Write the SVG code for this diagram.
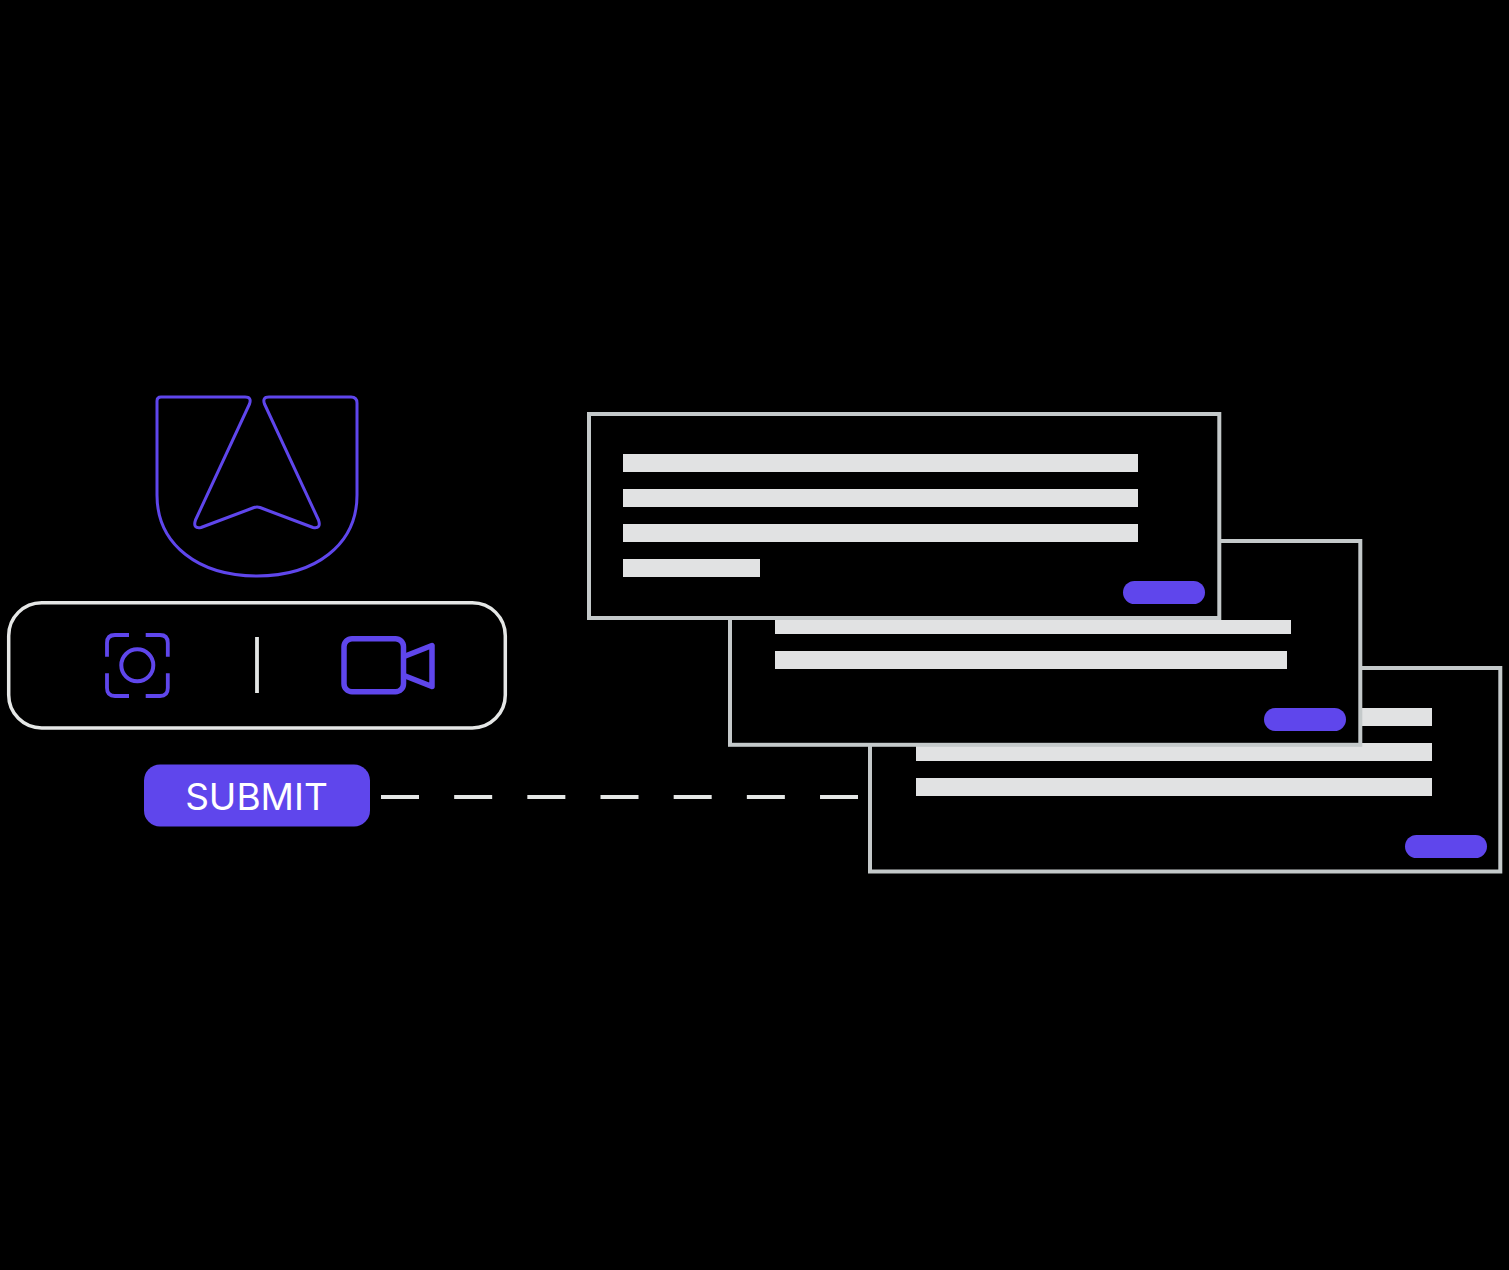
<svg xmlns="http://www.w3.org/2000/svg" width="1509" height="1270" viewBox="0 0 1509 1270">
<style>
.card{fill:#000;stroke:#c4c9ca;stroke-width:4}
.bar{fill:#e1e2e3}
.pill{fill:#5f46ec}
.ic{fill:none;stroke:#5f46ec;stroke-linejoin:round}
</style>
<rect width="1509" height="1270" fill="#000"/>
<g id="shield"><path class="ic" stroke-width="3" d="M161 397H245Q252 397 249.500 404L195.500 520Q192.500 529 201 527.500L254 507.500Q257 506.500 260 507.500L313 527.500Q321.500 529 318.500 520L264.500 404Q262 397 269 397H351Q357 397 357 403V495C357 545 315 576 257 576C199 576 157 545 157 495V401Q157 397 161 397Z"/></g>
<g id="capture-box">
<rect x="8.700" y="602.700" width="496.600" height="125.300" rx="33" fill="none" stroke="#e5e7e6" stroke-width="3.500"/>
<path class="ic" stroke-width="3.800" stroke-linecap="butt" d="M129 635H115Q107 635 107 643V656.700M145.700 635H160Q167.800 635 167.800 643V656.700M129 696H115Q107 696 107 688V673.300M145.700 696H160Q167.800 696 167.800 688V673.300"/>
<circle class="ic" stroke-width="4" cx="137.300" cy="665.300" r="16"/>
<line x1="257" y1="637" x2="257" y2="693" stroke="#e5e7e6" stroke-width="3.800"/>
<rect class="ic" stroke-width="5.500" x="344" y="638.700" width="59.500" height="53" rx="8"/>
<path class="ic" stroke-width="5.500" d="M404 656.500L432 645.500V686.500L404 675.500"/>
</g>
<g id="submit">
<rect class="pill" x="144" y="764.500" width="226" height="62" rx="16"/>
<text x="256.500" y="809.700" text-anchor="middle" font-family="Inter, 'Liberation Sans', sans-serif" font-size="37" fill="#fff">SUBMIT</text>
</g>
<g id="connectors"><line x1="381" y1="797" x2="858" y2="797" stroke="#e5e7e6" stroke-width="3.800" stroke-dasharray="38 35.170"/></g>
<g id="card-3">
<rect class="card" x="870" y="668" width="630.300" height="203.500"/>
<rect class="bar" x="916" y="708" width="516" height="18"/>
<rect class="bar" x="916" y="743" width="516" height="18"/>
<rect class="bar" x="916" y="778" width="516" height="18"/>
<rect class="pill" x="1405" y="835" width="82" height="23" rx="11.500"/>
</g>
<g id="card-2">
<rect class="card" x="730" y="541" width="630.300" height="203.800"/>
<rect class="bar" x="775" y="620" width="516" height="14"/>
<rect class="bar" x="775" y="651" width="512" height="18"/>
<rect class="pill" x="1264" y="708" width="82" height="23" rx="11.500"/>
</g>
<g id="card-1">
<rect class="card" x="589" y="414" width="630.300" height="204"/>
<rect class="bar" x="623" y="454" width="515" height="18"/>
<rect class="bar" x="623" y="489" width="515" height="18"/>
<rect class="bar" x="623" y="524" width="515" height="18"/>
<rect class="bar" x="623" y="559" width="137" height="18"/>
<rect class="pill" x="1123" y="581" width="82" height="23" rx="11.500"/>
</g>
</svg>
